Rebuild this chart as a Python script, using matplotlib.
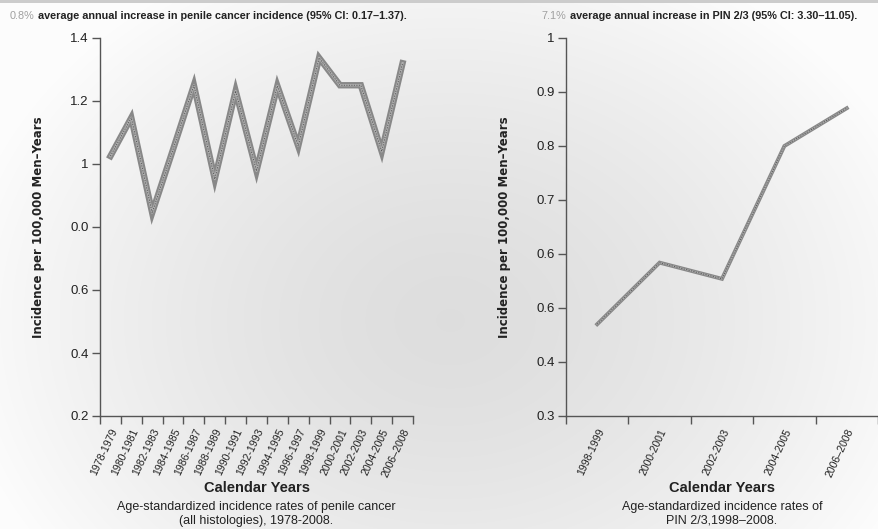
import numpy as np
import matplotlib
matplotlib.use('Agg')
import matplotlib.pyplot as plt

# Taxas padronizadas por idade (por 100.000 homens-ano)
periodos_penis = ['1978-1979', '1980-1981', '1982-1983', '1984-1985', '1986-1987',
                  '1988-1989', '1990-1991', '1992-1993', '1994-1995', '1996-1997',
                  '1998-1999', '2000-2001', '2002-2003', '2004-2005', '2006–2008']
taxas_penis = [1.025, 1.147, 0.845, 1.046, 1.250, 0.952, 1.232, 0.978,
               1.248, 1.057, 1.337, 1.250, 1.250, 1.040, 1.320]

periodos_pin = ['1998-1999', '2000-2001', '2002-2003', '2004-2005', '2006–2008']
taxas_pin = [0.470, 0.584, 0.554, 0.800, 0.870]

# rótulos do eixo y tal como aparecem na figura original
ticks_penis = [0.2, 0.4, 0.6, 0.8, 1.0, 1.2, 1.4]
rotulos_penis = ['0.2', '0.4', '0.6', '0.0', '1', '1.2', '1.4']
ticks_pin = [0.3, 0.4, 0.5, 0.6, 0.7, 0.8, 0.9, 1.0]
rotulos_pin = ['0.3', '0.4', '0.6', '0.6', '0.7', '0.8', '0.9', '1']

FONTE = ['Liberation Sans', 'DejaVu Sans']
COR_TEXTO = '#222222'


def fundo_radial(fig):
    bg = fig.add_axes([0, 0, 1, 1], zorder=-10)
    h, w = 529, 879
    yy, xx = np.mgrid[0:h, 0:w]
    r = np.sqrt(((xx - 450) / 500.0) ** 2 + ((yy - 320) / 400.0) ** 2)
    tom = 0.87 + 0.12 * np.clip(r, 0, 1) ** 1.5
    img = np.dstack([tom, tom, tom])
    img[0:3, :, :] = 0.80
    bg.imshow(img, aspect='auto', extent=[0, 1, 0, 1], interpolation='bilinear')
    bg.axis('off')


def linha_dupla(ax, x, y, largura):
    ax.plot(x, y, color='#888888', lw=largura, solid_joinstyle='miter', zorder=3)
    ax.plot(x, y, color='#b0b0b0', lw=largura * 0.35, zorder=4)
    ax.plot(x, y, color='#505050', lw=0.6, ls=(0, (1.5, 1.5)), zorder=5)


def painel(fig, pos, periodos, taxas, ticks, rotulos, largura):
    ax = fig.add_axes(pos)
    ax.set_facecolor('none')
    x = np.arange(len(periodos))
    linha_dupla(ax, x, taxas, largura)

    ax.set_xlim(-0.5, len(periodos) - 0.5)
    ax.set_ylim(ticks[0], ticks[-1])
    ax.set_yticks(ticks)
    ax.set_yticklabels(rotulos, family=FONTE, fontsize=9.5, color=COR_TEXTO)

    ax.set_xticks(x)
    ax.set_xticklabels(periodos, rotation=65, ha='right', va='top',
                       rotation_mode='anchor', family=FONTE, fontsize=7.6,
                       color=COR_TEXTO)
    ax.set_xticks(np.arange(len(periodos) + 1) - 0.5, minor=True)
    ax.tick_params(axis='x', which='major', length=0, pad=8)
    ax.tick_params(axis='x', which='minor', length=6, width=1, color='#555555')
    ax.tick_params(axis='y', length=6, width=1, color='#555555', pad=2)

    for lado in ['top', 'right']:
        ax.spines[lado].set_visible(False)
    for lado in ['left', 'bottom']:
        ax.spines[lado].set_color('#555555')
        ax.spines[lado].set_linewidth(1.0)

    ax.set_ylabel('Incidence per 100,000 Men–Years', fontsize=8.5, fontweight='bold',
                  color=COR_TEXTO)
    ax.yaxis.set_label_coords(-0.175, 0.5)
    return ax


def gerar_grafico():
    fig = plt.figure(figsize=(8.79, 5.29), dpi=100)
    fundo_radial(fig)

    ax1 = painel(fig, [100 / 879, 113 / 529, 313 / 879, 378 / 529],
                 periodos_penis, taxas_penis, ticks_penis, rotulos_penis, 4.6)
    ax2 = painel(fig, [566 / 879, 113 / 529, 312 / 879, 378 / 529],
                 periodos_pin, taxas_pin, ticks_pin, rotulos_pin, 2.8)

    # legendas abaixo de cada painel
    for ax, legenda in [(ax1, 'Age-standardized incidence rates of penile cancer\n(all histologies), 1978-2008.'),
                        (ax2, 'Age-standardized incidence rates of\nPIN 2/3,1998–2008.')]:
        cx = (ax.get_position().x0 + ax.get_position().x1) / 2
        fig.text(cx, 1 - 488 / 529, 'Calendar Years', ha='center', va='center',
                 family=FONTE, fontsize=10.5, fontweight='bold', color=COR_TEXTO)
        fig.text(cx, 1 - 514 / 529, legenda, ha='center', va='center',
                 family=FONTE, fontsize=9, color=COR_TEXTO, linespacing=1.15)

    # títulos com o percentual em cinza claro
    for x0, pct, resto in [(10, '0.8%', ' average annual increase in penile cancer incidence (95% CI: 0.17–1.37).'),
                           (542, '7.1%', ' average annual increase in PIN 2/3 (95% CI: 3.30–11.05).')]:
        t = fig.text(x0 / 879, 1 - 19 / 529, pct, family=FONTE, fontsize=7.8,
                     color='#a0a0a0', va='baseline')
        plt.annotate(resto, xy=(1, 0), xycoords=t, va='bottom', ha='left',
                     family=FONTE, fontsize=7.8, fontweight='bold', color=COR_TEXTO,
                     annotation_clip=False)

    fig.savefig('out.png', dpi=100)
    print("Gráfico salvo: out.png")


if __name__ == "__main__":
    gerar_grafico()
